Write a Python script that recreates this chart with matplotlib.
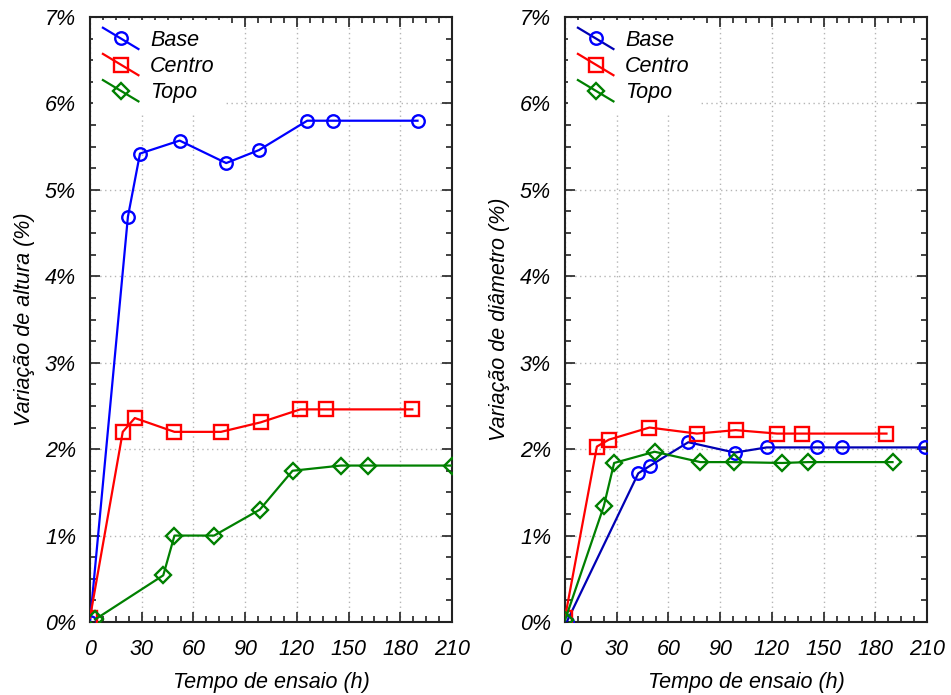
import matplotlib
matplotlib.use("Agg")
import matplotlib.pyplot as plt
from matplotlib.lines import Line2D
from matplotlib.legend_handler import HandlerLine2D
from matplotlib.ticker import MultipleLocator, FuncFormatter

plt.rcParams['font.family'] = ['Liberation Sans', 'DejaVu Sans']

# ---------------- data ----------------
series_names = ["Base", "Centro", "Topo"]

# Left panel: height variation (%)
alt_base_t = [0, 22, 29, 52, 79, 98, 126, 141, 190]
alt_base_v = [0.0, 4.69, 5.42, 5.57, 5.31, 5.46, 5.80, 5.80, 5.80]
alt_centro_t = [0, 19, 26, 49, 76, 99, 122, 137, 187]
alt_centro_v = [0.05, 2.20, 2.36, 2.20, 2.20, 2.31, 2.46, 2.46, 2.46]
alt_topo_t = [3, 42.5, 49, 72, 98.5, 117.5, 145.5, 161, 210]
alt_topo_v = [0.03, 0.54, 1.00, 1.00, 1.30, 1.75, 1.81, 1.81, 1.81]

# Right panel: diameter variation (%)
dia_base_t = [1, 42.5, 49.5, 71.5, 98.5, 117, 146, 160.5, 209]
dia_base_v = [0.0, 1.72, 1.81, 2.08, 1.96, 2.02, 2.02, 2.02, 2.02]
dia_centro_t = [0, 18.5, 25.5, 49, 76.5, 99, 123, 137.5, 186.5]
dia_centro_v = [0.05, 2.03, 2.11, 2.25, 2.18, 2.22, 2.18, 2.18, 2.18]
dia_topo_t = [0, 22.5, 28.5, 52, 78.5, 98, 126, 141, 190]
dia_topo_v = [0.02, 1.34, 1.84, 1.97, 1.85, 1.85, 1.84, 1.85, 1.85]

x_ticks = [0, 30, 60, 90, 120, 150, 180, 210]
y_ticks = [0, 1, 2, 3, 4, 5, 6, 7]
x_label = "Tempo de ensaio (h)"
y_label_left = "Variação de altura (%)"
y_label_right = "Variação de diâmetro (%)"

# ---------------- styles ----------------
FAM = ['Liberation Sans', 'DejaVu Sans']
tick_font = dict(family=FAM, style='italic', size=15.5)


class DiagHandler(HandlerLine2D):
    def create_artists(self, legend, orig_handle, xdescent, ydescent,
                       width, height, fontsize, trans):
        x0, x1 = -xdescent, width - xdescent
        cy = (height - ydescent) / 2.0
        dy = 0.30 * (x1 - x0)
        line = Line2D([x0, x1], [cy + dy, cy - dy],
                      color=orig_handle.get_color(),
                      lw=orig_handle.get_linewidth())
        mk = Line2D([(x0 + x1) / 2.0], [cy],
                    marker=orig_handle.get_marker(),
                    markersize=orig_handle.get_markersize(),
                    mec=orig_handle.get_markeredgecolor(),
                    mfc=orig_handle.get_markerfacecolor(),
                    mew=orig_handle.get_markeredgewidth(),
                    linestyle='none')
        line.set_transform(trans)
        mk.set_transform(trans)
        return [line, mk]


fig = plt.figure(figsize=(9.51, 6.95), dpi=100)
W, H = 951, 695


def make_axes(left_px):
    return fig.add_axes([left_px / W, (H - 622) / H, 362 / W, (622 - 17) / H])


def style_axes(ax, ylabel, label_x_px, left_px):
    ax.set_xlim(0, 210)
    ax.set_ylim(0, 7)
    ax.set_xticks(x_ticks)
    ax.set_yticks(y_ticks)
    ax.xaxis.set_minor_locator(MultipleLocator(7.5))
    ax.yaxis.set_minor_locator(MultipleLocator(0.25))
    ax.yaxis.set_major_formatter(FuncFormatter(lambda v, p: f"{v:.0f}%"))
    ax.tick_params(which='both', direction='in', top=True, right=True,
                   width=1.2, color='#222222')
    ax.tick_params(which='major', length=7)
    ax.tick_params(which='minor', length=4)
    ax.tick_params(axis='x', which='major', pad=12)
    ax.tick_params(axis='y', which='major', pad=10)
    for lab in ax.get_xticklabels() + ax.get_yticklabels():
        lab.set_fontproperties(tick_font)
    for s in ax.spines.values():
        s.set_linewidth(1.5)
        s.set_color('#222222')
    ax.grid(True, which='major', linestyle=(0, (1, 2.5)), color='#b5b5b5', lw=1.0)
    ax.set_axisbelow(True)
    ax.set_xlabel(x_label, fontsize=15.5, style='italic', labelpad=9)
    ax.set_ylabel(ylabel, fontsize=15.5, style='italic')
    ax.yaxis.set_label_coords((label_x_px - left_px) / 362, 0.5)


def plot_series(ax, data, base_line_color):
    colors = [base_line_color, '#ff0000', '#008000']
    mcolors = ['#0000ff', '#ff0000', '#008000']
    markers = ['o', 's', 'D']
    msizes = [9, 10, 8]
    handles = []
    for (t, v), name, c, mc, m, ms in zip(data, series_names, colors, mcolors, markers, msizes):
        h, = ax.plot(t, v, color=c, lw=1.6, marker=m, markersize=ms,
                     mfc='none', mec=mc, mew=1.7, label=name, zorder=3)
        handles.append(h)
    leg = ax.legend(handles=handles, loc='upper left',
                    handler_map={Line2D: DiagHandler()},
                    frameon=True, fancybox=False, framealpha=1.0,
                    facecolor='white', edgecolor='none',
                    prop=dict(family=FAM, style='italic', size=15.5),
                    handlelength=1.65, handletextpad=0.55, labelspacing=0.24,
                    borderaxespad=0.15, borderpad=0.45)
    leg.set_zorder(5)


ax1 = make_axes(90)
plot_series(ax1, [(alt_base_t, alt_base_v), (alt_centro_t, alt_centro_v),
                  (alt_topo_t, alt_topo_v)], '#0000ff')
style_axes(ax1, y_label_left, 35, 90)

ax2 = make_axes(565)
plot_series(ax2, [(dia_base_t, dia_base_v), (dia_centro_t, dia_centro_v),
                  (dia_topo_t, dia_topo_v)], '#0000b4')
style_axes(ax2, y_label_right, 510, 565)

fig.savefig("out.png", dpi=100)
